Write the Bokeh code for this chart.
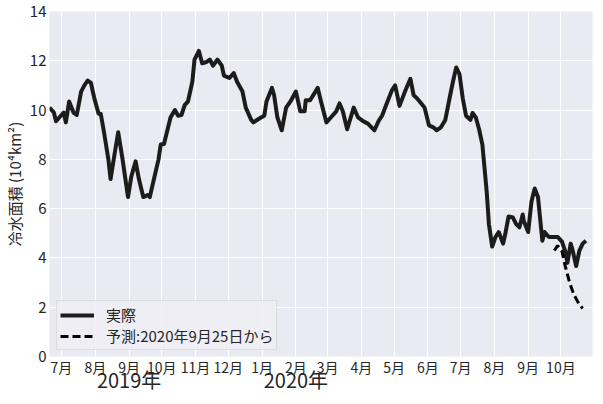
import pandas as pd
from bokeh.plotting import figure
from bokeh.models import (Range1d, FixedTicker, DatetimeTickFormatter, DatetimeAxis,
                          Legend, LegendItem, ColumnDataSource)
from bokeh.embed import file_html
from bokeh.resources import INLINE

# ---- data ----
actual_dates = [
    "2019-06-20", "2019-06-24", "2019-06-26", "2019-06-29", "2019-07-03", "2019-07-05",
    "2019-07-08", "2019-07-12", "2019-07-15", "2019-07-19", "2019-07-22", "2019-07-25",
    "2019-07-28", "2019-07-31", "2019-08-04", "2019-08-06", "2019-08-09", "2019-08-13",
    "2019-08-15", "2019-08-19", "2019-08-22", "2019-08-26", "2019-08-31", "2019-09-03",
    "2019-09-07", "2019-09-10", "2019-09-14", "2019-09-18", "2019-09-20", "2019-09-23",
    "2019-09-28", "2019-09-30", "2019-10-03", "2019-10-09", "2019-10-13", "2019-10-16",
    "2019-10-19", "2019-10-22", "2019-10-25", "2019-10-29", "2019-10-31", "2019-11-04",
    "2019-11-07", "2019-11-11", "2019-11-14", "2019-11-17", "2019-11-21", "2019-11-25",
    "2019-11-27", "2019-12-02", "2019-12-06", "2019-12-09", "2019-12-14", "2019-12-17",
    "2019-12-22", "2019-12-24", "2019-12-31", "2020-01-03", "2020-01-05", "2020-01-10",
    "2020-01-12", "2020-01-15", "2020-01-19", "2020-01-23", "2020-01-27", "2020-02-01",
    "2020-02-05", "2020-02-09", "2020-02-10", "2020-02-14", "2020-02-21", "2020-02-24",
    "2020-02-29", "2020-03-04", "2020-03-09", "2020-03-12", "2020-03-15", "2020-03-19",
    "2020-03-25", "2020-03-29", "2020-04-02", "2020-04-07", "2020-04-13", "2020-04-17",
    "2020-04-20", "2020-04-25", "2020-04-29", "2020-05-02", "2020-05-06", "2020-05-11",
    "2020-05-16", "2020-05-19", "2020-05-22", "2020-05-26", "2020-05-29", "2020-06-02",
    "2020-06-06", "2020-06-09", "2020-06-13", "2020-06-17", "2020-06-21", "2020-06-24",
    "2020-06-27", "2020-06-30", "2020-07-03", "2020-07-06", "2020-07-10", "2020-07-12",
    "2020-07-15", "2020-07-18", "2020-07-21", "2020-07-22", "2020-07-25", "2020-07-27",
    "2020-07-30", "2020-08-02", "2020-08-05", "2020-08-09", "2020-08-11", "2020-08-14",
    "2020-08-18", "2020-08-21", "2020-08-24", "2020-08-27", "2020-08-28", "2020-09-01",
    "2020-09-04", "2020-09-07", "2020-09-10", "2020-09-14", "2020-09-16", "2020-09-20",
    "2020-09-24", "2020-09-28", "2020-10-02", "2020-10-05", "2020-10-07", "2020-10-10",
    "2020-10-12", "2020-10-15", "2020-10-18", "2020-10-21", "2020-10-24",
]
actual_values = [
    10.1, 9.9, 9.55, 9.7, 9.9, 9.5,
    10.35, 9.9, 9.8, 10.75, 11.0, 11.2,
    11.1, 10.5, 9.85, 9.85, 9.1, 8.0,
    7.2, 8.3, 9.1, 8.0, 6.47, 7.3,
    7.92, 7.2, 6.47, 6.55, 6.47, 7.05,
    8.0, 8.6, 8.62, 9.7, 10.0, 9.77,
    9.8, 10.2, 10.35, 11.15, 12.05, 12.4,
    11.9, 11.95, 12.05, 11.8, 12.05, 11.8,
    11.4, 11.3, 11.5, 11.15, 10.75, 10.1,
    9.6, 9.5, 9.7, 9.77, 10.35, 10.9,
    10.6, 9.7, 9.18, 10.1, 10.35, 10.75,
    9.95, 9.95, 10.4, 10.4, 10.9, 10.35,
    9.5, 9.7, 9.95, 10.27, 9.95, 9.22,
    10.1, 9.7, 9.57, 9.45, 9.18, 9.57,
    9.77, 10.35, 10.8, 11.0, 10.17, 10.75,
    11.27, 10.6, 10.48, 10.27, 10.1, 9.38,
    9.3, 9.18, 9.3, 9.6, 10.5, 11.15,
    11.73, 11.46, 10.48, 9.77, 9.6, 9.88,
    9.7, 9.22, 8.6, 8.12, 6.67, 5.37,
    4.46, 4.85, 5.05, 4.58, 4.97, 5.68,
    5.64, 5.37, 5.24, 5.76, 5.5, 5.05,
    6.28, 6.82, 6.47, 4.7, 5.05, 4.85,
    4.85, 4.85, 4.66, 4.27, 3.8, 4.58,
    4.27, 3.67, 4.3, 4.58, 4.7,
]
forecast_dates = ["2020-09-25", "2020-09-28", "2020-10-02", "2020-10-05",
                  "2020-10-09", "2020-10-13", "2020-10-18", "2020-10-21"]
forecast_values = [4.3, 4.5, 4.27, 3.67, 3.0, 2.5, 2.1, 1.95]

month_tick_dates = ["2019-07-01", "2019-08-01", "2019-09-01", "2019-10-01", "2019-11-01",
                    "2019-12-01", "2020-01-01", "2020-02-01", "2020-03-01", "2020-04-01",
                    "2020-05-01", "2020-06-01", "2020-07-01", "2020-08-01", "2020-09-01",
                    "2020-10-01"]
year_label_dates = ["2019-09-01", "2020-02-01"]   # labelled "2019年", "2020年"
y_ticks = [0, 2, 4, 6, 8, 10, 12, 14]
series_labels = ["実際", "予測:2020年9月25日から"]
y_title = "冷水面積 (10⁴km²)"
x_start, x_end = "2019-06-20", "2020-10-30"

FONT = "Noto Sans CJK JP"
TEXT = "#262626"


def ms(d):
    return pd.Timestamp(d).value / 1e6


def fmt_all(f):
    return DatetimeTickFormatter(
        microseconds=f, milliseconds=f, seconds=f, minsec=f, minutes=f,
        hourmin=f, hours=f, days=f, months=f, years=f)


src_a = ColumnDataSource(dict(x=pd.to_datetime(actual_dates), y=actual_values))
src_f = ColumnDataSource(dict(x=pd.to_datetime(forecast_dates), y=forecast_values))

p = figure(width=595, height=396, x_axis_type="datetime",
           output_backend="svg", toolbar_location=None,
           x_range=Range1d(ms(x_start), ms(x_end)), y_range=Range1d(0, 14),
           min_border_left=48, min_border_right=3, min_border_top=11,
           min_border_bottom=0)

p.background_fill_color = "#eaeaf2"
p.border_fill_color = "white"
p.outline_line_color = None

r1 = p.line("x", "y", source=src_a, line_color="#1c1c1c", line_width=4,
            line_join="round")
r2 = p.line("x", "y", source=src_f, line_color="black", line_width=3,
            line_dash="8 4")

xt = FixedTicker(ticks=[ms(d) for d in month_tick_dates])
p.xaxis.ticker = xt
p.xaxis.formatter = fmt_all("%-m月")
p.yaxis.ticker = FixedTicker(ticks=y_ticks)

year_axis = DatetimeAxis(ticker=FixedTicker(ticks=[ms(d) for d in year_label_dates]),
                         formatter=fmt_all("%Y年"))
p.add_layout(year_axis, "below")

for ax in (p.xaxis + p.yaxis):
    ax.axis_line_color = None
    ax.major_tick_line_color = None
    ax.minor_tick_line_color = None
    ax.major_tick_out = 0
    ax.major_tick_in = 0
    ax.minor_tick_out = 0
    ax.major_label_text_font = FONT
    ax.major_label_text_color = TEXT
    ax.axis_label_text_font = FONT
    ax.axis_label_text_color = TEXT
    ax.axis_label_text_font_style = "normal"

p.xaxis[0].major_label_text_font_size = "14px"
p.xaxis[0].major_label_standoff = 0
year_axis.major_label_text_font_size = "20px"
year_axis.major_label_standoff = -15
p.yaxis.major_label_text_font_size = "15px"
p.yaxis.major_label_standoff = 3
p.yaxis.axis_label = y_title
p.yaxis.axis_label_text_font_size = "15px"
p.yaxis.axis_label_standoff = 2

p.grid.grid_line_color = "white"
p.grid.grid_line_width = 1
p.xgrid.ticker = xt

legend = Legend(items=[LegendItem(label=series_labels[0], renderers=[r1]),
                       LegendItem(label=series_labels[1], renderers=[r2])],
                location=(7, 6))
legend.label_text_font = FONT
legend.label_text_font_size = "15px"
legend.label_text_color = TEXT
legend.background_fill_color = "#eeeef4"
legend.background_fill_alpha = 0.85
legend.border_line_color = "#cccccc"
legend.border_line_width = 1
legend.margin = 0
legend.padding = 3
legend.spacing = 0
legend.glyph_width = 34
legend.glyph_height = 18
legend.label_height = 18
legend.label_standoff = 12
p.add_layout(legend)

open("out.html", "w").write(file_html(p, INLINE))
